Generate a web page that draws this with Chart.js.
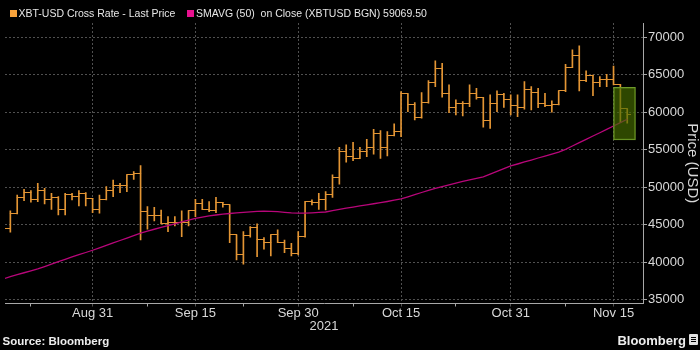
<!DOCTYPE html>
<html>
<head>
<meta charset="utf-8">
<script src="https://cdn.jsdelivr.net/npm/chart.js@4.4.1/dist/chart.umd.min.js"></script>
<style>
  html, body { margin: 0; padding: 0; background: #000; }
  #wrap { position: relative; width: 700px; height: 350px; overflow: hidden; font-family: 'Liberation Sans', Arial, sans-serif; }
  #wrap canvas { position: absolute; left: 0; top: 0; }
  .lg { position: absolute; top: 7.8px; font-size: 10.5px; line-height: 1; color: #e6e6e6; white-space: pre; }
  .sw { position: absolute; top: 9.5px; width: 7px; height: 7px; }
  #source { position: absolute; left: 2.5px; top: 335.8px; font-size: 11.5px; line-height: 1; font-weight: bold; color: #eee; }
  #brand { position: absolute; right: 14px; top: 333.8px; font-size: 13px; line-height: 1; font-weight: bold; color: #eee; }
  #logo { position: absolute; left: 689px; top: 334px; width: 9px; height: 11px; background: #e0e0e0; border-radius: 1px; }
  #logo i { position: absolute; left: 2px; top: 3px; width: 5px; height: 1px; background: #000; box-shadow: 0 2px 0 #000, 0 4px 0 #000; }
</style>
</head>
<body>
<div id="wrap">
  <canvas id="chart" width="700" height="350"></canvas>
  <span class="sw" style="left:10px;background:#f7a23b"></span>
  <span class="lg" style="left:18.5px">XBT-USD Cross Rate - Last Price</span>
  <span class="sw" style="left:187px;background:#e8118f"></span>
  <span class="lg" style="left:196px">SMAVG (50)  on Close (XBTUSD BGN) 59069.50</span>
  <div id="source">Source: Bloomberg</div>
  <div id="brand">Bloomberg</div>
  <div id="logo"><i></i></div>
</div>
<script>
// dagene (2021), MM-DD
const dates = [
  '08-18','08-19','08-20','08-21','08-22','08-23','08-24','08-25','08-26','08-27','08-28','08-29','08-30','08-31',
  '09-01','09-02','09-03','09-04','09-05','09-06','09-07','09-08','09-09','09-10','09-11','09-12','09-13','09-14','09-15',
  '09-16','09-17','09-18','09-19','09-20','09-21','09-22','09-23','09-24','09-25','09-26','09-27','09-28','09-29','09-30',
  '10-01','10-02','10-03','10-04','10-05','10-06','10-07','10-08','10-09','10-10','10-11','10-12','10-13','10-14','10-15',
  '10-16','10-17','10-18','10-19','10-20','10-21','10-22','10-23','10-24','10-25','10-26','10-27','10-28','10-29','10-30','10-31',
  '11-01','11-02','11-03','11-04','11-05','11-06','11-07','11-08','11-09','11-10','11-11','11-12','11-13','11-14','11-15','11-16','11-17'
];

const open = [
  44900, 44530, 46530, 48660, 49290, 48400, 49510, 48400, 48660, 47060, 48970, 48750, 49110, 48530,
  47060, 48310, 49510, 50170, 50170, 51640, 51860, 46750, 46170, 46170, 45110, 45330, 45330, 45330, 46880,
  47860, 47060, 46880, 48000, 47640, 43640, 40970, 43510, 44660, 42970, 42660, 43640, 42660, 41770, 41200,
  43420, 48080, 47950, 48400, 48980, 51330, 54750, 54080, 53860, 54750, 55330, 57200, 55330, 56880, 57370,
  62440, 60970, 59330, 61280, 64000, 65860, 62530, 60660, 61110, 61110, 62440, 62000, 58840, 61200, 62310, 61640,
  60840, 60660, 63060, 62640, 61200, 60840, 61060, 62840, 66000, 67550, 64170, 64930, 64000, 64310, 64310, 63730, 60440
];
const high = [
  45900, 46840, 48970, 49730, 49550, 50530, 49860, 49200, 48750, 49200, 49200, 49550, 49300, 48530,
  48970, 50080, 50970, 50530, 51640, 52080, 52880, 47420, 47330, 46970, 46080, 46080, 46840, 46880, 48400,
  48400, 48080, 48660, 48000, 47640, 43640, 44080, 44750, 45110, 43280, 43640, 44310, 42970, 42530, 44080,
  48080, 48310, 49200, 49420, 51640, 55330, 55640, 56000, 55330, 56400, 57730, 57550, 57420, 58440, 62750,
  62440, 61280, 62620, 64220, 66840, 66530, 63640, 61640, 61420, 63640, 63200, 62000, 62310, 62840, 62530, 62310,
  62310, 64080, 63420, 63200, 62530, 61510, 62840, 66400, 68310, 68840, 65510, 64970, 64750, 65060, 66170, 63730, 60440
];
const low = [
  44200, 44000, 46440, 48220, 48000, 48090, 47770, 47060, 46310, 46310, 48300, 47510, 47510, 46620,
  46530, 48310, 48750, 49290, 49420, 51060, 42970, 44400, 45510, 45110, 44080, 44840, 43420, 44840, 46080,
  47060, 46750, 46620, 47330, 42620, 40310, 39730, 43330, 40750, 41730, 40840, 42620, 41280, 40840, 40970,
  43330, 47640, 47060, 46980, 48660, 50400, 53330, 53550, 53860, 54080, 54400, 53860, 54170, 56840, 56750,
  60080, 58970, 59200, 61200, 63420, 62000, 59950, 59640, 59510, 60750, 61730, 58000, 57860, 60080, 60660, 59640,
  59420, 60400, 60310, 60620, 60750, 60000, 60970, 62750, 65950, 62840, 64080, 62220, 63420, 63420, 63640, 58660, 58530
];
const close = [
  44530, 46530, 48660, 49290, 48400, 49510, 48400, 48660, 47060, 48970, 48750, 49110, 48530, 47060,
  48310, 49510, 50170, 50170, 51640, 51860, 46750, 46170, 46170, 45110, 45330, 45330, 45330, 46880, 47860,
  47060, 46880, 48000, 47640, 43640, 40970, 43510, 44660, 42970, 42660, 43640, 42660, 41770, 41200, 43420,
  48080, 47950, 48400, 48980, 51330, 54750, 54080, 53860, 54750, 55330, 57200, 55330, 56880, 57370, 62440,
  60970, 59330, 61280, 64000, 65860, 62530, 60660, 61110, 61110, 62440, 62000, 58840, 61200, 62310, 61640, 60840,
  60660, 63060, 62640, 61200, 60840, 61060, 62840, 66000, 67550, 64170, 64930, 64000, 64310, 64310, 63730, 60440, 59730
];
// 50-dages glidende gennemsnit
const sma = [
  37800, 38070, 38340, 38600, 38860, 39110, 39430, 39750, 40070, 40390, 40710, 41020, 41300, 41600,
  41920, 42250, 42580, 42900, 43230, 43560, 43880, 44150, 44400, 44640, 44880, 45120, 45370, 45610, 45850,
  46020, 46170, 46300, 46420, 46500, 46580, 46650, 46720, 46770, 46800, 46790, 46740, 46660, 46580, 46550,
  46560, 46590, 46640, 46700, 46880, 47060, 47210, 47360, 47510, 47660, 47800, 47950, 48100, 48270, 48450,
  48730, 49020, 49300, 49580, 49850, 50090, 50320, 50560, 50790, 50990, 51190, 51390, 51750, 52110, 52470, 52840,
  53100, 53370, 53630, 53900, 54160, 54420, 54680, 55050, 55500, 55950, 56390, 56830, 57270, 57710, 58170, 58620, 59069.5
];

const tickDates = ['08-31', '09-15', '09-30', '10-15', '10-31', '11-15'];
const tickLabels = ['Aug 31', 'Sep 15', 'Sep 30', 'Oct 15', 'Oct 31', 'Nov 15'];
const minorTickDates = ['08-22', '09-08', '09-22', '10-08', '10-23', '11-08'];
const yTicks = [35000, 40000, 45000, 50000, 55000, 60000, 65000, 70000];
const yRange = [34500, 71900];
const xRange = [-12.78, 80.3];          // dage fra Aug 31
const highlightDay = 77.6;              // midten af den grønne boks
const highlightRange = [56300, 63330];

// dato -> dage fra Aug 31
const baseDay = Date.UTC(2021, 7, 31);
const dayOf = s => (Date.UTC(2021, +s.slice(0, 2) - 1, +s.slice(3)) - baseDay) / 864e5;
const days = dates.map(dayOf);
const majorDays = tickDates.map(dayOf);
const allTickDays = majorDays.concat(minorTickDates.map(dayOf)).sort((a, b) => a - b);

const barColor = '#e39534';
const gridColor = '#505050';
const textColor = '#d8d8d8';

// små vandrette streger til open (venstre) og close (højre)
function tickImage(side) {
  const c = document.createElement('canvas');
  c.width = 7; c.height = 1;
  const g = c.getContext('2d');
  g.fillStyle = barColor;
  g.fillRect(side === 'open' ? 0 : 3, 0, 4, 1);
  return c;
}

const isMajor = v => majorDays.includes(v);

new Chart(document.getElementById('chart'), {
  type: 'bar',
  data: {
    datasets: [
      {
        label: 'highlight',
        data: [{ x: highlightDay, y: highlightRange }],
        backgroundColor: 'rgba(70,108,0,0.66)',
        borderColor: '#6f9a2c',
        borderWidth: 1,
        borderSkipped: false,
        barThickness: 22,
        grouped: false,
        order: 0
      },
      {
        type: 'line',
        label: 'SMAVG (50)',
        data: days.map((d, i) => ({ x: d, y: sma[i] })),
        borderColor: '#b8067a',
        borderWidth: 1.3,
        pointRadius: 0,
        order: 1
      },
      {
        type: 'line',
        label: 'open',
        data: days.map((d, i) => ({ x: d, y: open[i] })),
        showLine: false,
        pointStyle: tickImage('open'),
        pointRadius: 3,
        order: 2
      },
      {
        type: 'line',
        label: 'close',
        data: days.map((d, i) => ({ x: d, y: close[i] })),
        showLine: false,
        pointStyle: tickImage('close'),
        pointRadius: 3,
        order: 2
      },
      {
        label: 'high-low',
        data: days.map((d, i) => ({ x: d, y: [low[i], high[i]] })),
        backgroundColor: barColor,
        barThickness: 1,
        grouped: false,
        order: 3
      }
    ]
  },
  options: {
    responsive: false,
    animation: false,
    devicePixelRatio: 1,
    events: [],
    layout: { padding: { top: 23, left: 0, right: 0, bottom: 17.5 } },
    plugins: { legend: { display: false }, tooltip: { enabled: false } },
    scales: {
      x: {
        type: 'linear',
        min: xRange[0],
        max: xRange[1],
        offset: false,
        afterBuildTicks: s => { s.ticks = allTickDays.map(v => ({ value: v })); },
        afterFit: s => { s.height = 29; },
        grid: {
          offset: false,
          color: c => (c.tick && isMajor(c.tick.value)) ? gridColor : 'rgba(0,0,0,0)',
          tickColor: c => (c.tick && isMajor(c.tick.value)) ? gridColor : '#a8a8a8',
          tickLength: 3
        },
        border: { color: '#a8a8a8', dash: [2, 2] },
        ticks: {
          autoSkip: false,
          maxRotation: 0,
          padding: 0,
          color: textColor,
          font: { family: 'Liberation Sans', size: 13, lineHeight: 1 },
          callback: v => { const k = majorDays.indexOf(v); return k < 0 ? '' : tickLabels[k]; }
        },
        title: {
          display: true, text: '2021', color: textColor, padding: 0,
          font: { family: 'Liberation Sans', size: 13, lineHeight: 1 }
        }
      },
      y: {
        position: 'right',
        min: yRange[0],
        max: yRange[1],
        beginAtZero: false,
        afterBuildTicks: s => { s.ticks = yTicks.map(v => ({ value: v })); },
        afterFit: s => { s.width = 57; },
        grid: { color: gridColor, tickColor: '#a8a8a8', tickLength: 4 },
        border: { color: '#a8a8a8', dash: [2, 2] },
        ticks: {
          padding: 1,
          color: textColor,
          font: { family: 'Liberation Sans', size: 13 },
          callback: v => String(v)
        },
        title: {
          display: true, text: 'Price (USD)', color: textColor, padding: 0,
          font: { family: 'Liberation Sans', size: 15, lineHeight: 1 }
        }
      }
    }
  }
});
</script>
</body>
</html>
